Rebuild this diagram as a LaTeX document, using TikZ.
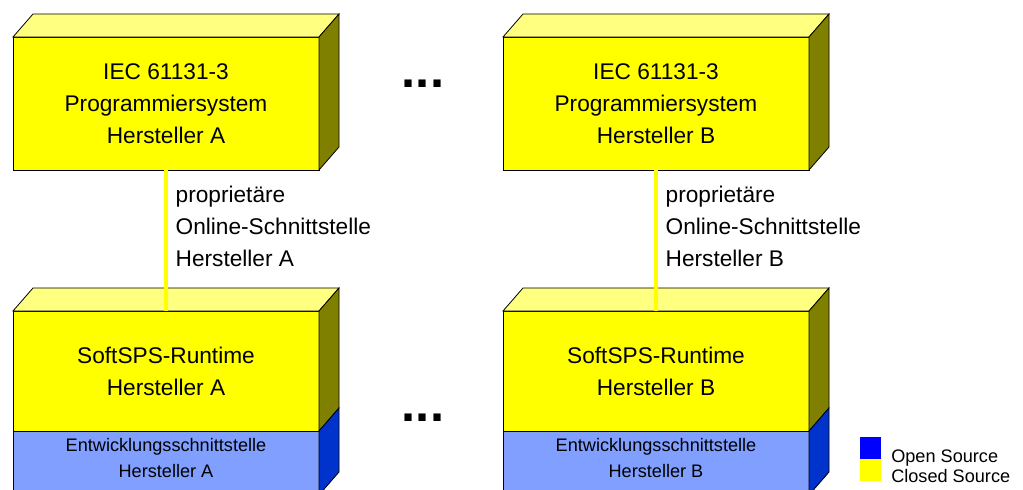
\documentclass[tikz,border=0pt]{standalone}
\usepackage{fontspec}
\setmainfont{Liberation Sans}
\definecolor{gelb}{HTML}{FFFF00}
\definecolor{hellgelb}{HTML}{FFFF80}
\definecolor{oliv}{HTML}{808000}
\definecolor{hellblau}{HTML}{809FFF}
\definecolor{dunkelblau}{HTML}{0033CC}
\definecolor{blau}{HTML}{0000FF}

\begin{document}
\begin{tikzpicture}[x=0.75pt,y=-0.75pt,
    face/.style={draw=black,line width=0.6pt},
    front/.style={face,outer sep=0pt,inner sep=0pt,minimum width=229.5pt,align=center},
    big/.style={font=\fontsize{17}{24}\selectfont},
    small/.style={font=\fontsize{13.6}{19}\selectfont,align=center},
    dots/.style={font=\fontsize{38}{38}\selectfont\bfseries,anchor=base,inner sep=0pt},
    swatch/.style={minimum width=15.75pt,minimum height=16.5pt,inner sep=0pt},
    link/.style={gelb,line width=3.5pt}]
  \useasboundingbox (0,0) rectangle (1023,489);
  \foreach \s/\x in {A/13,B/503}{
    % Programmiersystem
    \node[front,big,fill=gelb,minimum height=99.75pt,anchor=north west] (prg\s) at (\x,37)
      {IEC 61131-3\\Programmiersystem\\Hersteller \s};
    \draw[face,fill=hellgelb] (prg\s.north west) -- ++(20,-23) -- ++(306,0) -- (prg\s.north east) -- cycle;
    \draw[face,fill=oliv] (prg\s.north east) -- ++(20,-23) -- ++(0,133) -- (prg\s.south east) -- cycle;
    % Runtime + Entwicklungsschnittstelle
    \node[front,big,fill=gelb,minimum height=90pt,anchor=north west] (rt\s) at (\x,311)
      {SoftSPS-Runtime\\Hersteller \s};
    \node[front,fill=hellblau,minimum height=48pt,anchor=north] (if\s) at (rt\s.south) {};
    \node[small] (ift\s) at ([yshift=-20.25pt]if\s.north) {Entwicklungsschnittstelle\\Hersteller \s};
    \draw[face,fill=hellgelb] (rt\s.north west) -- ++(20,-23) -- ++(306,0) -- (rt\s.north east) -- cycle;
    \draw[face,fill=oliv] (rt\s.north east) -- ++(20,-23) -- ++(0,120) -- (rt\s.south east) -- cycle;
    \draw[face,fill=dunkelblau] (if\s.north east) -- ++(20,-23) -- ++(0,64) -- (if\s.south east) -- cycle;
    % online interface
    \draw[link] (prg\s) -- node[big,black,pos=.4,right=5.5pt,inner sep=0pt,align=left] (lbl\s)
      {proprietäre\\Online-Schnittstelle\\Hersteller \s} (rt\s);
  }
  \node[dots] (dotsT) at (423,87) {...};
  \node[dots] (dotsB) at (423,421) {...};
  % legend
  \node[swatch,fill=blau] (keyOS) at (870.5,448) {};
  \node[swatch,fill=gelb] (keyCS) at (870.5,470) {};
  \node[small,anchor=base west,inner sep=0pt] (txtOS) at (891,462) {Open Source};
  \node[small,anchor=base west,inner sep=0pt] (txtCS) at (891,482) {Closed Source};
\end{tikzpicture}
\end{document}
